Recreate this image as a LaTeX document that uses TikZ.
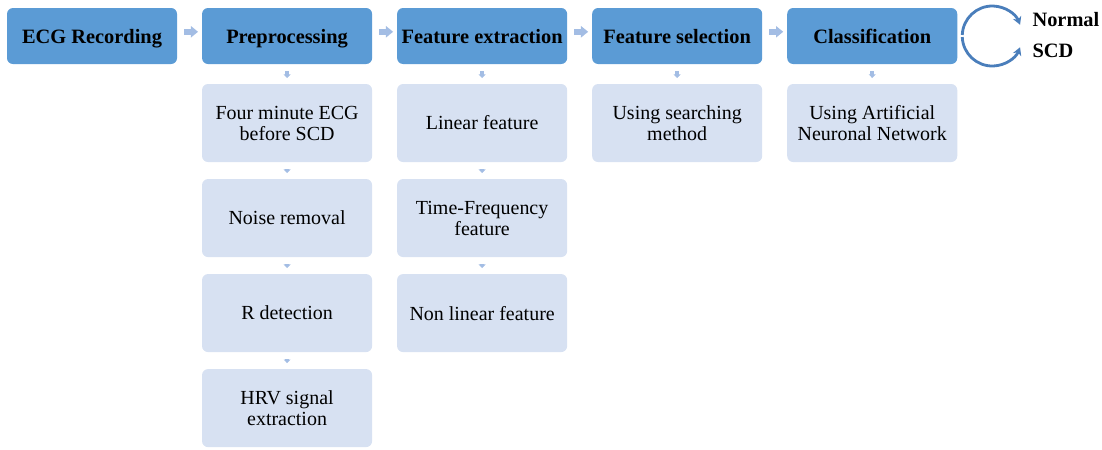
\documentclass[tikz,border=0pt]{standalone}
\usepackage{fontspec}
\setmainfont{Liberation Serif}
\usepackage{xcolor}
\usetikzlibrary{arrows.meta,calc,positioning}
\definecolor{stepblue}{HTML}{5B9BD5}
\definecolor{subblue}{HTML}{D7E1F2}
\definecolor{arrblue}{HTML}{A3BDE4}
\definecolor{cycblue}{HTML}{4A7EBB}

\begin{document}
\begin{tikzpicture}[x=0.025cm,y=0.025cm,
    stepbox/.style={fill=stepblue,rounded corners=0.15cm,minimum width=4.25cm,minimum height=1.4cm,
      inner sep=1pt,outer sep=0pt,text height=12pt,text depth=2pt,
      font=\fontsize{14.5pt}{17pt}\selectfont\bfseries},
    subbox/.style={fill=subblue,rounded corners=0.15cm,minimum width=4.25cm,minimum height=1.95cm,
      inner sep=1pt,outer sep=0pt,align=center,font=\fontsize{14.2pt}{15pt}\selectfont},
    rarr/.style={draw=arrblue,line width=0.15cm,-{Triangle[width=0.28cm,length=0.18cm]},
      shorten <=0.175cm,shorten >=0.1cm},
    darr/.style={draw=arrblue,line width=0.11cm,-{Triangle[width=0.17cm,length=0.09cm]},
      shorten <=0.175cm,shorten >=0.15cm},
    cyc/.style={draw=cycblue,line width=2pt,-{Stealth[length=0.2cm,width=0.22cm]}},
    lab/.style={anchor=west,inner sep=0pt,text height=12pt,text depth=2pt,
      font=\fontsize{14.5pt}{17pt}\selectfont\bfseries}]
    \useasboundingbox (0,0) rectangle (1102,-449);
    \node[stepbox,anchor=north west] (ecg) at (7,-8) {ECG Recording};
    \node[stepbox,right=0.625cm of ecg] (pre) {Preprocessing};
    \node[stepbox,right=0.625cm of pre] (fex) {Feature extraction};
    \node[stepbox,right=0.625cm of fex] (fsel) {Feature selection};
    \node[stepbox,right=0.625cm of fsel] (cls) {Classification};
    \node[subbox,below=0.5cm of pre] (p1) {Four minute ECG\\ before SCD};
    \node[subbox,below=0.425cm of p1] (p2) {Noise removal};
    \node[subbox,below=0.425cm of p2] (p3) {R detection};
    \node[subbox,below=0.425cm of p3] (p4) {HRV signal\\ extraction};
    \node[subbox,below=0.5cm of fex] (f1) {Linear feature};
    \node[subbox,below=0.425cm of f1] (f2) {Time-Frequency\\ feature};
    \node[subbox,below=0.425cm of f2] (f3) {Non linear feature};
    \node[subbox,below=0.5cm of fsel] (s1) {Using searching\\ method};
    \node[subbox,below=0.5cm of cls] (c1) {Using Artificial\\ Neuronal Network};
    \foreach \a/\b in {ecg/pre,pre/fex,fex/fsel,fsel/cls}{
      \draw[rarr] ([yshift=3]\a.east) -- ([yshift=3]\b.west);
    }
    \foreach \a/\b in {pre/p1,p1/p2,p2/p3,p3/p4,fex/f1,f1/f2,f2/f3,fsel/s1,cls/c1}{
      \draw[darr] (\a.south) -- (\b.north);
    }
    \node[lab] (nrm) at ($(cls.east)+(75,17)$) {Normal};
    \node[lab] (scd) at ($(cls.east)+(75,-14)$) {SCD};
    \draw[cyc] ($(cls.east)+(35,0)+(178:30)$) arc[start angle=178,end angle=22,radius=30];
    \draw[cyc] ($(cls.east)+(35,0)+(182:30)$) arc[start angle=182,end angle=338,radius=30];
  \end{tikzpicture}
\end{document}
